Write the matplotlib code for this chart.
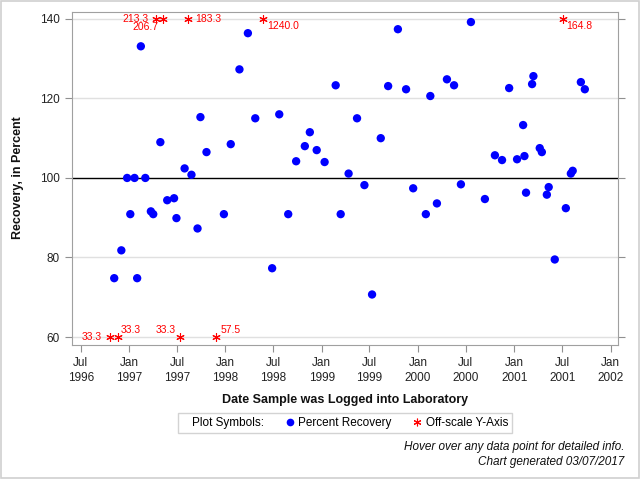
import matplotlib
matplotlib.use('Agg')
import matplotlib.pyplot as plt
import matplotlib.dates as mdates
from matplotlib.lines import Line2D
from matplotlib.patches import Rectangle
import numpy as np
import pandas as pd

plt.rcParams['font.family'] = ['Liberation Sans', 'DejaVu Sans']

# samples inside the y range
sample_dates = ['1996-11-05', '1996-12-02', '1996-12-24', '1997-01-05', '1997-01-21',
                '1997-01-31', '1997-02-14', '1997-03-03', '1997-03-24', '1997-04-02',
                '1997-04-29', '1997-05-25', '1997-06-20', '1997-06-29', '1997-07-30',
                '1997-08-25', '1997-09-17', '1997-09-28', '1997-10-21', '1997-12-26',
                '1998-01-21', '1998-02-23', '1998-03-27', '1998-04-24', '1998-06-27',
                '1998-07-24', '1998-08-27', '1998-09-26', '1998-10-29', '1998-11-17',
                '1998-12-13', '1999-01-12', '1999-02-23', '1999-03-14', '1999-04-13',
                '1999-05-15', '1999-06-12', '1999-07-11', '1999-08-13', '1999-09-10',
                '1999-10-17', '1999-11-17', '1999-12-14', '2000-01-31', '2000-02-17',
                '2000-03-13', '2000-04-20', '2000-05-17', '2000-06-12', '2000-07-20',
                '2000-09-11', '2000-10-19', '2000-11-15', '2000-12-12', '2001-01-11',
                '2001-02-03', '2001-02-08', '2001-02-14', '2001-03-09', '2001-03-14',
                '2001-04-07', '2001-04-15', '2001-05-04', '2001-05-11', '2001-06-03',
                '2001-07-15', '2001-08-03', '2001-08-10', '2001-09-10', '2001-09-25']
recovery = [74.8, 81.8, 100.0, 90.9, 100.0,
            74.8, 133.1, 100.0, 91.6, 90.9,
            109.0, 94.4, 94.9, 89.9, 102.4,
            100.8, 87.3, 115.3, 106.5, 90.9,
            108.5, 127.3, 136.4, 115.0, 77.3,
            116.0, 90.9, 104.2, 108.0, 111.5,
            107.0, 104.0, 123.3, 90.9, 101.1,
            115.0, 98.2, 70.7, 110.0, 123.1,
            137.4, 122.3, 97.4, 90.9, 120.6,
            93.6, 124.8, 123.3, 98.4, 139.2,
            94.7, 105.7, 104.5, 122.6, 104.7,
            113.3, 105.5, 96.3, 123.6, 125.6,
            107.5, 106.5, 95.8, 97.7, 79.5,
            92.4, 101.1, 101.8, 124.1, 122.3]

# samples off the y scale (true value written beside the star)
offscale_dates = ['1996-10-21', '1996-11-18', '1997-04-14', '1997-05-10', '1997-07-11',
                  '1997-08-10', '1997-11-25', '1998-05-24', '2001-07-03']
offscale_values = [33.3, 33.3, 213.3, 206.7, 33.3, 183.3, 57.5, 1240.0, 164.8]

# label placement for the off-scale values (points, alignment)
label_offsets = [(-5.8, 0, 'right'), (2.5, 5.4, 'left'), (-5.8, 0, 'right'),
                 (-3.6, -6.2, 'right'), (-2.9, 5.4, 'right'), (5.8, 0, 'left'),
                 (3.2, 5.4, 'left'), (2.9, -5.0, 'left'), (2.9, -5.0, 'left')]

ymin, ymax = 60, 140

fig = plt.figure(figsize=(6.4, 4.8), dpi=100)
ax = fig.add_axes([72.3 / 640, 135 / 480, 546 / 640, 333.3 / 480])

ax.set_xlim(pd.Timestamp('1996-05-30'), pd.Timestamp('2002-01-30'))
ax.set_ylim(58.0, 141.8)
ax.set_yticks([60, 80, 100, 120, 140])
for y in [60, 80, 120, 140]:
    ax.axhline(y, color='#e0e0e0', lw=1, zorder=0)
ax.axhline(100, color='black', lw=1, zorder=1)

ax.scatter(pd.to_datetime(sample_dates), recovery, s=36, color='#0000ff',
           edgecolors='none', zorder=3)

off_x = pd.to_datetime(offscale_dates)
off_y = np.clip(offscale_values, ymin, ymax)
ax.plot(off_x, off_y, linestyle='none', marker=(6, 2, 0), markersize=6,
        markeredgecolor='#ff0000', markeredgewidth=0.8, zorder=3)
for xd, yv, val, (dx, dy, ha) in zip(off_x, off_y, offscale_values, label_offsets):
    ax.annotate(f'{val:.1f}', (xd, yv), xytext=(dx, dy), textcoords='offset points',
                ha=ha, va='center', color='#ff0000', fontsize=7.5)

ax.xaxis.set_major_locator(mdates.MonthLocator(bymonth=[1, 7]))
ax.xaxis.set_major_formatter(mdates.DateFormatter('%b\n%Y'))

for s in ax.spines.values():
    s.set_color('#a0a0a0')
ax.tick_params(colors='#909090', labelcolor='#222222', labelsize=8.5,
               length=5, pad=4, right=True)
for lab in ax.get_xticklabels():
    lab.set_linespacing(1.25)

ax.set_xlabel('Date Sample was Logged into Laboratory', fontsize=9, fontweight='bold',
              color='#111111')
ax.xaxis.set_label_coords(0.5, -0.148)
fig.text(18.3 / 640, 1 - 178 / 480, 'Recovery, in Percent', rotation=90,
         ha='center', va='center', fontsize=9, fontweight='bold', color='#111111')

handles = [Line2D([], [], linestyle='none'),
           Line2D([], [], linestyle='none', marker='o', markersize=5.5,
                  markerfacecolor='#0000ff', markeredgecolor='none'),
           Line2D([], [], linestyle='none', marker=(6, 2, 0), markersize=5.5,
                  markeredgecolor='#ff0000', markeredgewidth=0.8)]
labels = ['Plot Symbols:', 'Percent Recovery', 'Off-scale Y-Axis']
leg = fig.legend(handles, labels, loc='center', bbox_to_anchor=(345 / 640, 1 - 423 / 480),
                 ncol=3, fontsize=8.5, frameon=True, fancybox=False, edgecolor='#c8c8c8',
                 handlelength=0.3, handletextpad=0.6, columnspacing=2.0, borderpad=0.3,
                 borderaxespad=0)
leg.get_frame().set_linewidth(1)

fig.text(624 / 640, 1 - 446.7 / 480, 'Hover over any data point for detailed info.',
         ha='right', va='center', style='italic', fontsize=8.5, color='#111111')
fig.text(624 / 640, 1 - 462.3 / 480, 'Chart generated 03/07/2017',
         ha='right', va='center', style='italic', fontsize=8.5, color='#111111')

fig.patches.append(Rectangle((0.5 / 640, 2 / 480), 638.5 / 640, 477 / 480,
                             transform=fig.transFigure, fill=False,
                             edgecolor='#d0d0d0', lw=1.2))

fig.savefig('out.png', dpi=100)
